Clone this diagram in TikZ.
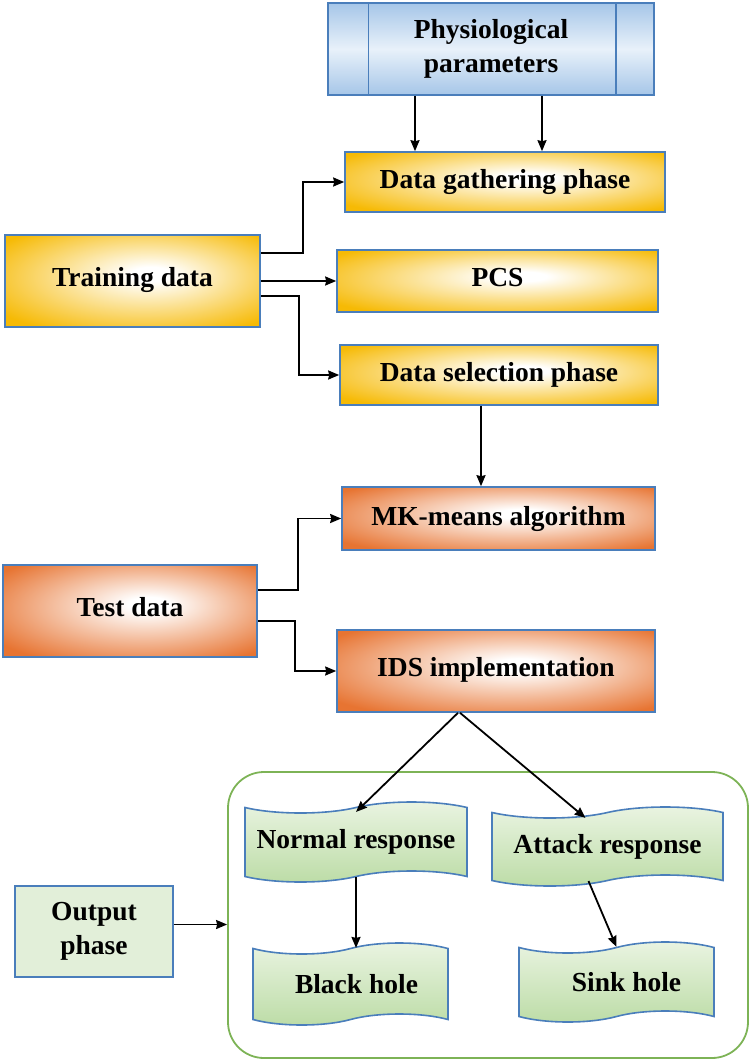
\documentclass[tikz,border=0pt]{standalone}
\usepackage{fontspec}
\setmainfont{Liberation Serif}
\usetikzlibrary{arrows.meta,shapes.symbols,calc}
\definecolor{goldc}{HTML}{F6BA05}
\definecolor{orangec}{HTML}{E77432}
\definecolor{edgeblue}{HTML}{4A7EBB}
\definecolor{bluetop}{HTML}{A6C6E8}
\definecolor{bluemid}{HTML}{E8F1FA}
\definecolor{greenlt}{HTML}{EAF4E2}
\definecolor{greendk}{HTML}{BCDCA6}
\definecolor{greenflat}{HTML}{E2EFD9}
\definecolor{framegreen}{HTML}{7DB356}
\pgfdeclareradialshading{yglow}{\pgfpoint{4bp}{4bp}}{color(0bp)=(white); color(4bp)=(white); color(33bp)=(goldc); color(50bp)=(goldc)}
\pgfdeclareradialshading{oglow}{\pgfpoint{4bp}{4bp}}{color(0bp)=(white); color(4bp)=(white); color(33bp)=(orangec); color(50bp)=(orangec)}
\begin{document}
\begin{tikzpicture}[x=1pt,y=-1pt,
  lbl/.style={font=\fontsize{27.5}{32}\selectfont\bfseries, align=center, inner sep=0pt},
  ybox/.style={lbl, rectangle, draw=edgeblue, line width=1.6pt, shading=yglow},
  obox/.style={lbl, rectangle, draw=edgeblue, line width=1.6pt, shading=oglow},
  gbox/.style={lbl, rectangle, draw=edgeblue, line width=1.6pt, fill=greenflat},
  banner/.style={lbl, tape, draw=edgeblue, line width=1.6pt, top color=greenlt, bottom color=greendk, tape bend height=11pt},
  arr/.style={draw=black, line width=1.8pt, -{Stealth[length=11pt,width=9pt,inset=1pt]}}
]
\useasboundingbox (0,0) rectangle (755,1063);

% container
\node[draw=framegreen, line width=1.8pt, rounded corners=36pt, minimum width=520pt, minimum height=286pt, inner sep=0pt] (box) at (488,915) {};

% top box
\node[lbl, draw=edgeblue, line width=1.6pt, top color=bluetop, bottom color=bluetop, middle color=bluemid, minimum width=326pt, minimum height=92pt] (phys) at (491,49) {Physiological\\[2pt]parameters};
\draw[edgeblue, line width=1.4pt] ([xshift=41pt]phys.north west) -- ([xshift=41pt]phys.south west);
\draw[edgeblue, line width=1.4pt] ([xshift=-39pt]phys.north east) -- ([xshift=-39pt]phys.south east);

\node[ybox, minimum width=320pt, minimum height=60pt] (gather) at (505,182) {Data gathering phase};
\node[ybox, minimum width=255pt, minimum height=92pt] (train) at (132.5,281) {\raisebox{8pt}{Training data}};
\node[ybox, minimum width=321pt, minimum height=62pt] (pcs) at (497.5,281) {\raisebox{8pt}{PCS}};
\node[ybox, minimum width=318pt, minimum height=60pt] (select) at (499,375) {Data selection phase};

\node[obox, minimum width=313pt, minimum height=63pt] (mk) at (498.5,518.5) {MK-means algorithm};
\node[obox, minimum width=254pt, minimum height=92pt] (test) at (130,611) {\raisebox{8pt}{Test data}};
\node[obox, minimum width=318pt, minimum height=82pt] (ids) at (496,671) {\raisebox{8pt}{IDS implementation}};

\node[banner, minimum width=222pt, minimum height=80pt] (normal) at (356,842) {\raisebox{3pt}{Normal response}};
\node[banner, minimum width=231pt, minimum height=79pt] (attack) at (607.5,846.5) {\raisebox{3pt}{Attack response}};
\node[banner, minimum width=195pt, minimum height=82pt] (black) at (350.5,984) {\hspace*{12pt}Black hole};
\node[banner, minimum width=195pt, minimum height=80pt] (sink) at (616.5,982) {\hspace*{20pt}Sink hole};

\node[gbox, minimum width=158pt, minimum height=91pt] (output) at (94,931.5) {Output\\[2pt]phase};

% connectors
\draw[arr] ([xshift=-76pt]phys.south) -- ([xshift=-76pt]phys.south |- gather.north);
\draw[arr] ([xshift=51pt]phys.south) -- ([xshift=51pt]phys.south |- gather.north);
\draw[arr] ([yshift=28pt]train.east) -- ++(42,0) |- (gather.west);
\draw[arr] (train.east) -- (pcs.west);
\draw[arr] ([yshift=-15pt]train.east) -- ++(38,0) |- (select.west);
\draw[arr] ([xshift=-18pt]select.south) -- ([xshift=-18pt]select.south |- mk.north);
\draw[arr] ([yshift=21pt]test.east) -- ++(40,0) |- (mk.west);
\draw[arr] ([yshift=-10pt]test.east) -- ++(37,0) |- (ids.west);
\draw[arr] ([xshift=-38pt]ids.south) -- ([yshift=-5pt]normal.north);
\draw[arr] ([xshift=-36pt]ids.south) -- ([xshift=-22pt,yshift=-6pt]attack.north);
\draw[arr] (normal.south) -- (normal.south |- black.north);
\draw[arr] ([xshift=-19pt]attack.south) -- (sink.north);
\draw[arr] ([yshift=7pt]output.east) -- ([yshift=7pt]output.east -| box.west);
\end{tikzpicture}
\end{document}
